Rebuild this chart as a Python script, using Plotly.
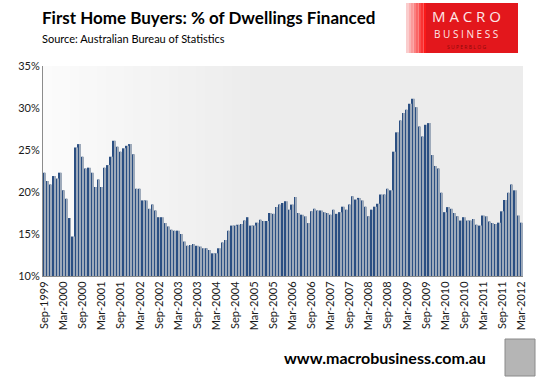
import plotly.graph_objects as go
import pandas as pd

# ---- data ----
months = [d.strftime("%b-%Y") for d in pd.date_range("1999-09-01", "2012-03-01", freq="MS")]

fhb_share = [
    22.3, 21.3, 20.9, 21.9, 21.6, 22.3, 20.2, 19.2, 16.9, 14.7,
    25.3, 25.7, 24.2, 22.8, 22.9, 22.3, 20.6, 21.5, 20.6, 22.9,
    23.2, 24.2, 26.1, 25.4, 24.8, 25.2, 25.5, 25.7, 24.5, 20.4,
    20.4, 19.0, 19.0, 18.0, 18.5, 17.8, 17.0, 17.0, 16.3, 15.9,
    15.5, 15.4, 15.4, 15.0, 14.1, 13.6, 13.7, 13.8, 13.6, 13.5,
    13.3, 13.3, 13.1, 12.7, 12.7, 13.3, 14.0, 14.3, 15.4, 16.0,
    16.0, 16.1, 16.2, 16.6, 17.0, 16.0, 16.0, 16.35, 16.7, 16.55,
    16.55, 17.5, 17.4, 18.2, 18.5, 18.7, 18.9, 17.9, 18.5, 19.4,
    17.5, 17.3, 17.1, 16.3, 17.7, 18.0, 17.8, 17.8, 17.6, 17.5,
    17.3, 17.9, 17.4, 17.6, 18.25, 17.9, 18.5, 19.5, 19.1, 19.3,
    19.0, 18.25, 17.1, 17.9, 18.25, 18.6, 19.7, 19.7, 20.4, 20.2,
    24.8, 27.1, 28.5, 29.4, 29.8, 30.5, 31.1, 30.1, 27.8, 26.6,
    28.0, 28.2, 24.4, 23.1, 22.8, 19.9, 17.6, 18.2, 18.0, 17.5,
    17.1, 16.6, 17.0, 16.6, 16.6, 16.8, 16.1, 16.0, 17.2, 17.1,
    16.5, 16.3, 16.2, 16.35, 17.7, 19.05, 19.9, 20.9, 20.2, 17.2,
    16.35,
]

tick_labels = [
    "Sep-1999", "Mar-2000", "Sep-2000", "Mar-2001", "Sep-2001", "Mar-2002",
    "Sep-2002", "Mar-2003", "Sep-2003", "Mar-2004", "Sep-2004", "Mar-2005",
    "Sep-2005", "Mar-2006", "Sep-2006", "Mar-2007", "Sep-2007", "Mar-2008",
    "Sep-2008", "Mar-2009", "Sep-2009", "Mar-2010", "Sep-2010", "Mar-2011",
    "Sep-2011", "Mar-2012",
]
y_ticks = [10, 15, 20, 25, 30, 35]

# ---- figure ----
idx = list(range(len(months)))
tick_pos = [months.index(t) for t in tick_labels]

fig = go.Figure()
fig.add_trace(go.Bar(x=idx, y=fhb_share, width=0.5, offset=-0.5,
                     marker=dict(color="#2b4f82", line=dict(width=0)),
                     hovertext=months, showlegend=False))
fig.add_trace(go.Bar(x=idx, y=fhb_share, width=0.3, offset=0.0,
                     marker=dict(color="#9eaaba", line=dict(width=0)),
                     hoverinfo="skip", showlegend=False))

L, R, T, B = 43, 523, 66, 276
PW, PH = R - L, B - T


def px_x(x):
    return (x - L) / PW


def px_y(y):
    return (B - y) / PH


# plot-area gradient background (white -> light grey)
shapes = []
n = 24
x0d, x1d = 0.0, 0.45
for i in range(n):
    t = i / (n - 1)
    c = int(round(251 - (251 - 236) * t))
    shapes.append(dict(type="rect", xref="x domain", yref="y domain",
                       x0=x0d + (x1d - x0d) * i / n, x1=x0d + (x1d - x0d) * (i + 1) / n + 0.002,
                       y0=0, y1=1, fillcolor=f"rgb({c},{c},{c})",
                       line=dict(width=0), layer="below"))

# logo box with soft left edge
for i in range(8):
    t = i / 7
    g = int(round(205 - 180 * t))
    shapes.append(dict(type="rect", xref="paper", yref="paper",
                       x0=px_x(406 + i * 2.5), x1=px_x(406 + (i + 1) * 2.5),
                       y0=px_y(53), y1=px_y(3),
                       fillcolor=f"rgb(250,{g},{g})", line=dict(width=0), layer="below"))
shapes.append(dict(type="rect", xref="paper", yref="paper",
                   x0=px_x(426), x1=px_x(518), y0=px_y(53), y1=px_y(3),
                   fillcolor="#e3171c", line=dict(width=0), layer="below"))
# small wolf picture placeholder
shapes.append(dict(type="rect", xref="paper", yref="paper",
                   x0=px_x(505), x1=px_x(535), y0=px_y(376), y1=px_y(339),
                   fillcolor="#b5b5b5", line=dict(width=1, color="#8a8a8a"), layer="below"))

annotations = [
    dict(text="<b>First Home Buyers: % of Dwellings Financed</b>", x=px_x(40), y=px_y(18),
         xref="paper", yref="paper", xanchor="left", yanchor="middle", showarrow=False,
         font=dict(family="Lato", size=17, color="#000000")),
    dict(text="Source: Australian Bureau of Statistics", x=px_x(40), y=px_y(38),
         xref="paper", yref="paper", xanchor="left", yanchor="middle", showarrow=False,
         font=dict(family="Lato", size=11, color="#000000")),
    dict(text="M A C R O", x=px_x(466), y=px_y(16),
         xref="paper", yref="paper", xanchor="center", yanchor="middle", showarrow=False,
         font=dict(family="Open Sans", size=15, color="#fde8e8")),
    dict(text="B U S I N E S S", x=px_x(466), y=px_y(34),
         xref="paper", yref="paper", xanchor="center", yanchor="middle", showarrow=False,
         font=dict(family="Open Sans", size=10, color="#fde8e8")),
    dict(text="S U P E R B L O G", x=px_x(466), y=px_y(46.5),
         xref="paper", yref="paper", xanchor="center", yanchor="middle", showarrow=False,
         font=dict(family="Open Sans", size=5, color="#8c0a0a")),
    dict(text="<b>www.macrobusiness.com.au</b>", x=px_x(488), y=px_y(357),
         xref="paper", yref="paper", xanchor="right", yanchor="middle", showarrow=False,
         font=dict(family="Lato", size=16, color="#000000")),
]

fig.update_layout(
    width=540, height=383,
    margin=dict(l=L, r=540 - R, t=T, b=383 - B, autoexpand=False),
    paper_bgcolor="white",
    plot_bgcolor="#ececec",
    barmode="overlay",
    shapes=shapes,
    annotations=annotations,
    font=dict(family="Lato", size=11, color="#1a1a1a"),
)
fig.update_xaxes(
    range=[-0.5, len(months) - 0.5],
    tickmode="array", tickvals=tick_pos, ticktext=tick_labels,
    tickangle=-90, tickfont=dict(family="Lato", size=11, color="#1a1a1a"),
    showgrid=False, zeroline=False, showline=True, linecolor="#8c8c8c", linewidth=1,
    ticks="", automargin=False, fixedrange=True,
)
fig.update_yaxes(
    range=[10, 35], tickmode="array", tickvals=y_ticks,
    ticktext=[f"{v}%" for v in y_ticks],
    tickfont=dict(family="Lato", size=11, color="#1a1a1a"),
    showgrid=False, zeroline=False, showline=True, linecolor="#8c8c8c", linewidth=1,
    ticks="", automargin=False, fixedrange=True,
)

fig.write_html(
    "out.html",
    config={"displayModeBar": False},
    post_script="document.body.style.margin='0';document.body.style.overflow='hidden';",
)
